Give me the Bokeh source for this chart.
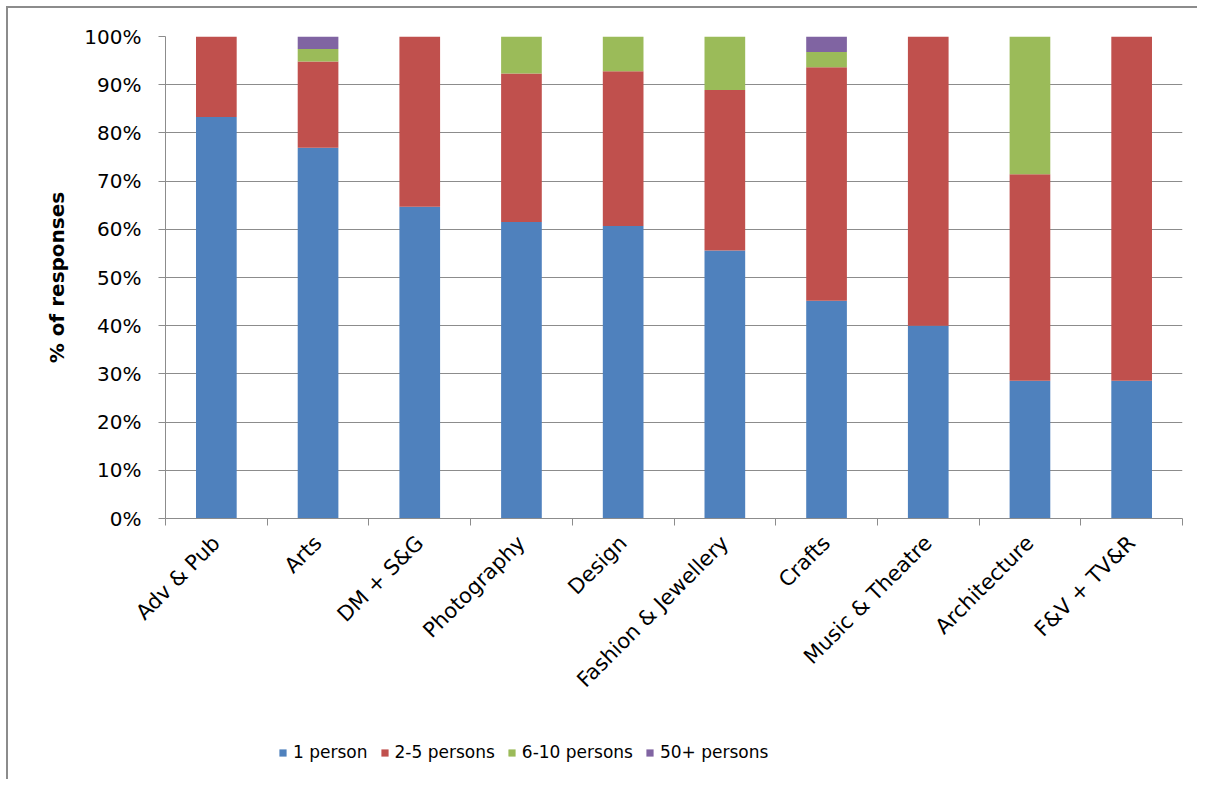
from bokeh.plotting import figure
from bokeh.layouts import column
from bokeh.models import (ColumnDataSource, FixedTicker, PrintfTickFormatter, Legend,
                          LegendItem, Range1d)
from bokeh.embed import file_html
from bokeh.resources import INLINE
import math

categories = ["Adv & Pub", "Arts", "DM + S&G", "Photography", "Design",
              "Fashion & Jewellery", "Crafts", "Music & Theatre", "Architecture", "F&V + TV&R"]
one_person = [83.3, 76.9, 64.7, 61.5, 60.7, 55.6, 45.2, 40.0, 28.6, 28.6]
two_to_five = [16.7, 17.9, 35.3, 30.8, 32.1, 33.3, 48.4, 60.0, 42.8, 71.4]
six_to_ten = [0.0, 2.6, 0.0, 7.7, 7.2, 11.1, 3.2, 0.0, 28.6, 0.0]
fifty_plus = [0.0, 2.6, 0.0, 0.0, 0.0, 0.0, 3.2, 0.0, 0.0, 0.0]
series_names = ["1 person", "2-5 persons", "6-10 persons", "50+ persons"]
colors = ["#4F81BD", "#C0504D", "#9BBB59", "#8064A2"]

xpos = list(range(1, len(categories) + 1))
src = ColumnDataSource(dict(x=xpos, s1=one_person, s2=two_to_five, s3=six_to_ten, s4=fifty_plus))

FONT = "DejaVu Sans"

p = figure(output_backend="svg", toolbar_location=None,
           x_range=Range1d(0.5, len(categories) + 0.5), y_range=Range1d(0, 100),
           min_border_left=157, min_border_right=15, min_border_top=28, min_border_bottom=216,
           frame_width=1017, frame_height=482)

renderers = p.vbar_stack(["s1", "s2", "s3", "s4"], x="x", width=0.4, source=src,
                         color=colors, line_color=None)

p.outline_line_color = None
p.xgrid.grid_line_color = None
p.ygrid.grid_line_color = "#8c8c8c"
p.ygrid.grid_line_width = 1

# y axis
p.yaxis.ticker = FixedTicker(ticks=list(range(0, 101, 10)))
p.yaxis.formatter = PrintfTickFormatter(format="%d%%")
p.yaxis.axis_line_color = "#8c8c8c"
p.yaxis.major_tick_line_color = "#8c8c8c"
p.yaxis.major_tick_out = 7
p.yaxis.major_tick_in = 0
p.yaxis.minor_tick_line_color = None
p.yaxis.major_label_text_font = FONT
p.yaxis.major_label_text_font_size = "20px"
p.yaxis.major_label_text_color = "#000000"
p.yaxis.major_label_standoff = 17
p.yaxis.axis_label = "% of responses"
p.yaxis.axis_label_text_font = FONT
p.yaxis.axis_label_text_font_size = "20px"
p.yaxis.axis_label_text_font_style = "bold"
p.yaxis.axis_label_text_color = "#000000"
p.yaxis.axis_label_standoff = 12

# x axis
p.xaxis.ticker = FixedTicker(ticks=xpos, minor_ticks=[x - 0.5 for x in xpos] + [len(xpos) + 0.5])
p.xaxis.major_label_overrides = {x: c for x, c in zip(xpos, categories)}
p.xaxis.major_label_orientation = math.pi / 4
p.xaxis.axis_line_color = "#8c8c8c"
p.xaxis.major_tick_line_color = None
p.xaxis.major_tick_out = 0
p.xaxis.major_tick_in = 0
p.xaxis.minor_tick_line_color = "#8c8c8c"
p.xaxis.minor_tick_out = 7
p.xaxis.minor_tick_in = 0
p.xaxis.major_label_text_font = FONT
p.xaxis.major_label_text_font_size = "21px"
p.xaxis.major_label_text_color = "#000000"
p.xaxis.major_label_standoff = 14

# legend strip below the chart (its swatch renderers sit outside the strip's visible range)
lg = figure(output_backend="svg", toolbar_location=None, frame_width=1189, frame_height=45,
            x_range=Range1d(-100, -99), y_range=Range1d(-100, -99),
            x_axis_location=None, y_axis_location=None,
            min_border_left=0, min_border_right=0, min_border_top=0, min_border_bottom=0)
lg.outline_line_color = None
lg.xgrid.grid_line_color = None
lg.ygrid.grid_line_color = None
swatches = lg.vbar_stack(["s1", "s2", "s3", "s4"], x="x", width=0.4, source=src,
                         color=colors, line_color=None)
legend = Legend(items=[LegendItem(label=n, renderers=[r]) for n, r in zip(series_names, swatches)],
                orientation="horizontal", location=(270, 17),
                label_text_font=FONT, label_text_font_size="17px", label_text_color="#000000",
                glyph_width=9, glyph_height=9, label_standoff=6, spacing=12,
                background_fill_alpha=0, border_line_color=None, padding=0, margin=0)
lg.add_layout(legend, "center")

layout = column(p, lg, spacing=0)
layout.styles = {"margin-left": "6px", "margin-top": "6px",
                 "border-left": "2px solid #8c8c8c", "border-top": "2px solid #8c8c8c"}

open("out.html", "w").write(file_html(layout, INLINE))
